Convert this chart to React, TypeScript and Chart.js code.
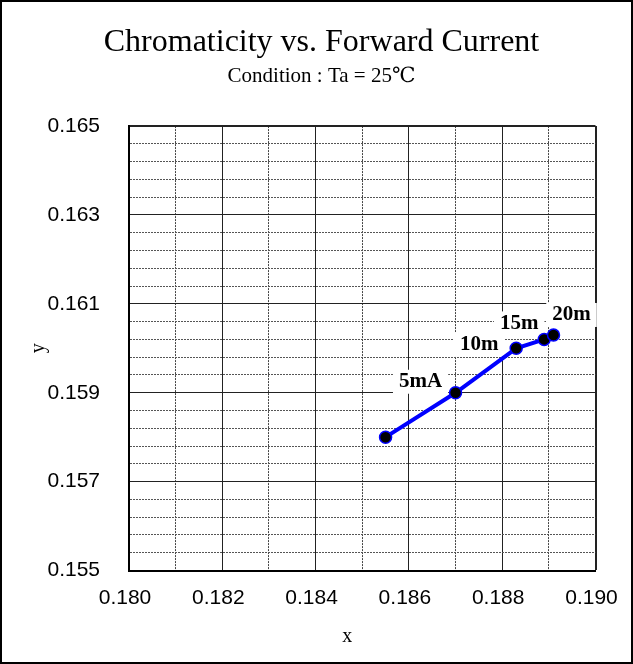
import React, { useEffect, useRef } from 'react';
import { Chart, registerables } from 'chart.js';

Chart.register(...registerables);

// ---- data ----
const xValues = [0.1855, 0.187, 0.1883, 0.1889, 0.1891];
const yValues = [0.158, 0.159, 0.16, 0.1602, 0.1603];
const pointLabels = ['', '5mA', '10m', '15m', '20m'];

// axis ranges / tick steps
const xMin = 0.18;
const xMax = 0.19;
const xStep = 0.001;
const yMin = 0.155;
const yMax = 0.165;
const yStep = 0.0004;

const titleText = 'Chromaticity vs. Forward Current';
const subtitleText = 'Condition : Ta = 25\u2103';
const xTitle = 'x';
const yTitle = 'y';

// label placement relative to its point (pixels)
const labelOffsets: [number, number][] = [
  [0, 0],
  [-35, -11],
  [-37, -4],
  [-25, -16],
  [18, -20],
];

const SERIF = '"Liberation Serif", "DejaVu Serif", "Times New Roman", serif';
const SANS = '"Liberation Sans", Arial, sans-serif';

export default function App() {
  const ref = useRef<HTMLCanvasElement>(null);

  useEffect(() => {
    document.body.style.margin = '0';
    const canvas = ref.current;
    if (!canvas) return;

    const yCount = Math.round((yMax - yMin) / yStep);
    const xCount = Math.round((xMax - xMin) / xStep);

    const labelPlugin = {
      id: 'pointLabelBoxes',
      beforeDatasetsDraw(chart: any) {
        const ctx = chart.ctx as CanvasRenderingContext2D;
        const meta = chart.getDatasetMeta(0);
        ctx.save();
        ctx.font = `bold 21px ${SERIF}`;
        ctx.textAlign = 'center';
        ctx.textBaseline = 'middle';
        meta.data.forEach((pt: any, i: number) => {
          const text = pointLabels[i];
          if (!text) return;
          const [dx, dy] = labelOffsets[i];
          const cx = pt.x + dx;
          const cy = pt.y + dy;
          const w = ctx.measureText(text).width;
          ctx.fillStyle = '#ffffff';
          ctx.fillRect(cx - w / 2 - 6, cy - 12, w + 12, 24);
          ctx.fillStyle = '#000000';
          ctx.fillText(text, cx, cy);
        });
        ctx.restore();
      },
    };

    const xTitlePlugin = {
      id: 'xTitle',
      afterDraw(chart: any) {
        const ctx = chart.ctx as CanvasRenderingContext2D;
        const area = chart.chartArea;
        ctx.save();
        ctx.font = `20px ${SERIF}`;
        ctx.fillStyle = '#000';
        ctx.textAlign = 'center';
        ctx.textBaseline = 'alphabetic';
        ctx.fillText(xTitle, (area.left + area.right) / 2 - 15, 640);
        ctx.restore();
      },
    };

    const chart = new Chart(canvas, {
      type: 'scatter',
      data: {
        datasets: [
          {
            data: xValues.map((x, i) => ({ x, y: yValues[i] })),
            showLine: true,
            borderColor: '#0000ff',
            borderWidth: 4,
            pointRadius: 6,
            pointHoverRadius: 6,
            pointBackgroundColor: '#000000',
            pointBorderColor: '#0000ff',
            pointBorderWidth: 1.5,
          },
        ],
      },
      options: {
        responsive: false,
        animation: false,
        layout: { padding: { left: 0, right: 0, top: 0, bottom: 0 } },
        plugins: {
          legend: { display: false },
          tooltip: { enabled: false },
          title: {
            display: true,
            text: titleText,
            color: '#000',
            font: { family: SERIF, size: 32, weight: 'normal' },
            padding: { top: 21, bottom: 0 },
          },
          subtitle: {
            display: true,
            text: subtitleText,
            color: '#000',
            font: { family: SERIF, size: 21, weight: 'normal' },
            padding: { top: 2, bottom: 37.5 },
          },
        },
        scales: {
          x: {
            type: 'linear',
            min: xMin,
            max: xMax,
            afterFit(scale: any) {
              scale.height = 91.5;
            },
            ticks: {
              stepSize: xStep,
              autoSkip: false,
              maxTicksLimit: 200,
              maxRotation: 0,
              padding: 15,
              labelOffset: -4,
              color: '#000',
              font: { family: SANS, size: 21 },
              callback: (value: any, index: number) =>
                index % 2 === 0 ? Number(value).toFixed(3) : '',
            },
            grid: {
              drawTicks: false,
              color: (c: any) => (c.index % 2 === 0 ? '#222' : '#444'),
              lineWidth: (c: any) => (c.index === xCount ? 2 : 1),
            },
            border: {
              display: true,
              color: '#000',
              width: 2,
              dash: (c: any) =>
                typeof c.index === 'number' && c.index % 2 === 1 ? [2, 1] : [],
            },
          },
          y: {
            type: 'linear',
            min: yMin,
            max: yMax,
            afterFit(scale: any) {
              scale.width = 127;
            },
            title: {
              display: true,
              text: yTitle,
              color: '#000',
              font: { family: SERIF, size: 20, weight: 'normal' },
              padding: { top: 25, bottom: 0 },
            },
            ticks: {
              stepSize: yStep,
              autoSkip: false,
              maxTicksLimit: 200,
              padding: 29,
              color: '#000',
              font: { family: SANS, size: 21 },
              callback: (value: any, index: number) =>
                index % 5 === 0 ? Number(value).toFixed(3) : '',
            },
            grid: {
              drawTicks: false,
              color: (c: any) => (c.index % 5 === 0 ? '#222' : '#555'),
              lineWidth: (c: any) => (c.index === yCount ? 2 : 1),
            },
            border: {
              display: true,
              color: '#000',
              width: 2,
              dash: (c: any) =>
                typeof c.index === 'number' && c.index % 5 !== 0 ? [2, 1] : [],
            },
          },
          // empty right-hand spacer axis (keeps the plot's right margin)
          yRight: {
            type: 'linear',
            position: 'right',
            display: true,
            min: yMin,
            max: yMax,
            afterFit(scale: any) {
              scale.width = 45.5;
            },
            ticks: { display: false },
            grid: { display: false, drawTicks: false },
            border: { display: false },
          },
        },
      },
      plugins: [labelPlugin, xTitlePlugin],
    } as any);

    return () => chart.destroy();
  }, []);

  return (
    <div
      style={{
        width: 633,
        height: 664,
        border: '2px solid #000',
        boxSizing: 'border-box',
        overflow: 'hidden',
        background: '#fff',
      }}
    >
      <canvas ref={ref} width={639} height={660} style={{ display: 'block' }} />
    </div>
  );
}
